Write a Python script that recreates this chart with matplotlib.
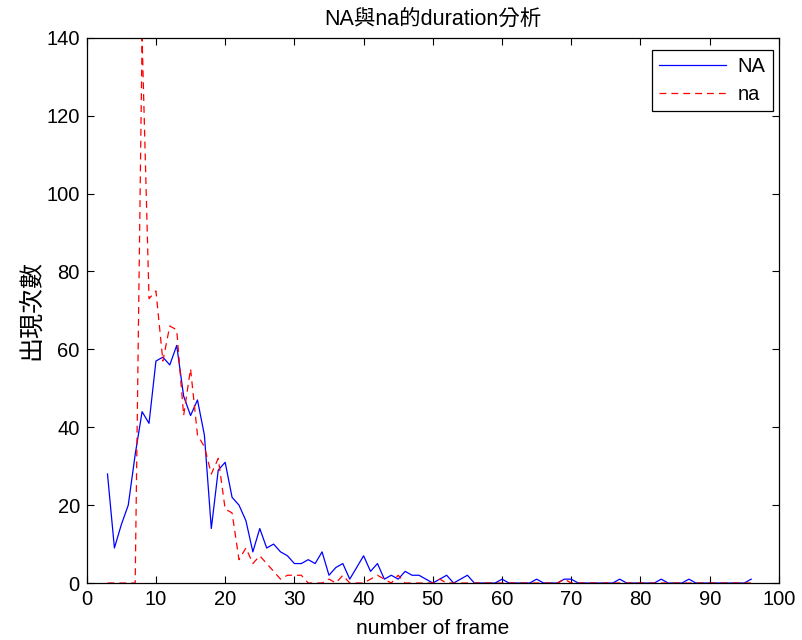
import numpy as np
import matplotlib.pyplot as plt

plt.rcParams['font.family'] = ['Liberation Sans', 'Noto Sans CJK TC', 'DejaVu Sans']

# frame counts 3..96
frames = np.arange(3, 97)

na_upper = [28, 9, 15, 20, 33, 44, 41, 57, 58, 56, 61, 48, 43, 47, 38,
            14, 29, 31, 22, 20, 16, 8, 14, 9, 10, 8, 7, 5, 5, 6,
            5, 8, 2, 4, 5, 1, 4, 7, 3, 5, 1, 2, 1, 3, 2,
            2, 1, 0, 1, 2, 0, 1, 2, 0, 0, 0, 0, 1, 0, 0,
            0, 0, 1, 0, 0, 0, 1, 1, 0, 0, 0, 0, 0, 0, 1,
            0, 0, 0, 0, 0, 1, 0, 0, 0, 1, 0, 0, 0, 0, 0,
            0, 0, 0, 1]

na_lower = [0, 0, 0, 0, 0, 140, 73, 75, 57, 66, 65, 43, 55, 38, 35,
            28, 32, 19, 18, 6, 9, 5, 7, 5, 3, 1, 2, 2, 2, 0,
            0, 0, 1, 0, 2, 0, 0, 0, 1, 2, 1, 0, 2, 0, 0,
            0, 0, 0, 1, 0, 0, 0, 0, 0, 0, 0, 0, 0, 0, 0,
            0, 0, 0, 0, 0, 0, 1, 0, 0, 0, 0, 0, 0, 0, 0,
            0, 0, 0, 0, 0, 0, 0, 0, 0, 0, 0, 0, 0, 0, 0,
            0, 0, 0, 0]

fig = plt.figure(figsize=(8.03, 6.40), dpi=100)
ax = fig.add_axes([0.108, 0.089, 0.862, 0.852])

ax.plot(frames, na_upper, color='#0000ff', lw=0.9, label='NA')
ax.plot(frames, na_lower, color='#ff0000', lw=0.9, dashes=(5.5, 4), label='na')

ax.set_xlim(0, 100)
ax.set_ylim(0, 140)
ax.set_xticks(np.arange(0, 101, 10))
ax.set_yticks(np.arange(0, 141, 20))
ax.tick_params(direction='in', top=True, right=True, length=5, width=0.8,
               labelsize=14.5, pad=5)
for s in ax.spines.values():
    s.set_linewidth(0.9)

ax.set_title('NA與na的duration分析', fontsize=15.5, pad=9)
ax.set_xlabel('number of frame', fontsize=15, labelpad=7)
ax.set_ylabel('出現次數', fontsize=18, labelpad=2)

leg = ax.legend(loc='upper right', fontsize=14.5, fancybox=False, framealpha=1,
                edgecolor='black', handlelength=3.3, handletextpad=0.6,
                borderpad=0.35, labelspacing=0.45, borderaxespad=0,
                bbox_to_anchor=(0.991, 0.978))
leg.get_frame().set_linewidth(0.9)

fig.savefig('out.png', dpi=100)
